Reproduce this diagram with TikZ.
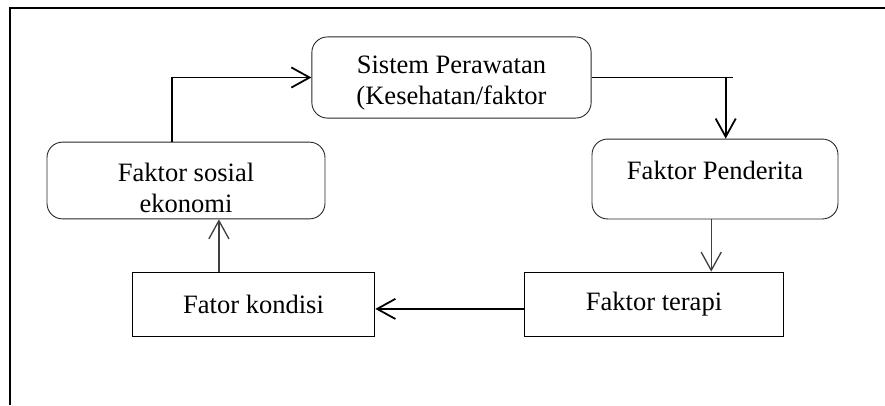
\documentclass[tikz,border=0pt]{standalone}
\usepackage{fontspec}
\setmainfont{Liberation Serif}
\usetikzlibrary{arrows.meta,positioning}
\tikzset{
    rcomponent/.style={
    rectangle,rounded corners=7pt,draw=black!85,align=center,inner sep=2pt
    },
    scomponent/.style={
    rectangle,draw=black,align=center,inner sep=2pt
    },
    flow/.style={
    line width=0.8pt,-{Straight Barb[length=0.29cm,width=0.32cm]}
    },
    thinflow/.style={
    flow,line width=0.6pt,draw=black!75
    },
}
\begin{document}
\begin{tikzpicture}[x=0.0159cm, y=-0.0159cm, font=\fontsize{12}{13.8}\selectfont]
   \useasboundingbox (0,0) rectangle (885,405);
   \draw[line width=0.5pt] (10,405) -- (10,8) -- (885,8);

   \node[rcomponent,minimum width=4.44cm,minimum height=1.29cm,text height=26.6pt] (sistem) at (451.5,77.5) {Sistem Perawatan\\(Kesehatan/faktor};
   \node[rcomponent,minimum width=3.91cm,minimum height=1.27cm,text depth=8pt] (penderita) at (715,179) {Faktor Penderita};
   \node[rcomponent,minimum width=4.42cm,minimum height=1.22cm,text height=28.9pt] (sosial) at (186,180.5) {Faktor sosial\\ekonomi};
   \node[scomponent,minimum width=3.86cm,minimum height=1.03cm] (kondisi) at (253.5,304.5) {Fator kondisi};
   \node[scomponent,minimum width=4.13cm,minimum height=1.03cm] (terapi) at (654,304.5) {Faktor terapi};

   \coordinate (so) at ([xshift=-0.22cm]sosial.north);
   \coordinate (pn) at ([xshift=0.17cm]penderita.north);
   \coordinate (bend) at ([xshift=0.11cm]pn |- sistem.east);
   \coordinate (ps) at ([xshift=-0.06cm]penderita.south);
   \coordinate (kn) at ([xshift=-0.55cm]kondisi.north);

   \draw[flow] (so) |- (sistem.west);
   \draw[line width=0.9pt] (sistem.east) -- (bend);
   \draw[flow] (pn |- sistem.east) -- (pn);
   \draw[thinflow] (ps) -- (ps |- terapi.north);
   \draw[flow] ([yshift=-0.07cm]terapi.west) -- ([yshift=-0.07cm]kondisi.east);
   \draw[thinflow] (kn) -- (kn |- sosial.south);
\end{tikzpicture}
\end{document}
